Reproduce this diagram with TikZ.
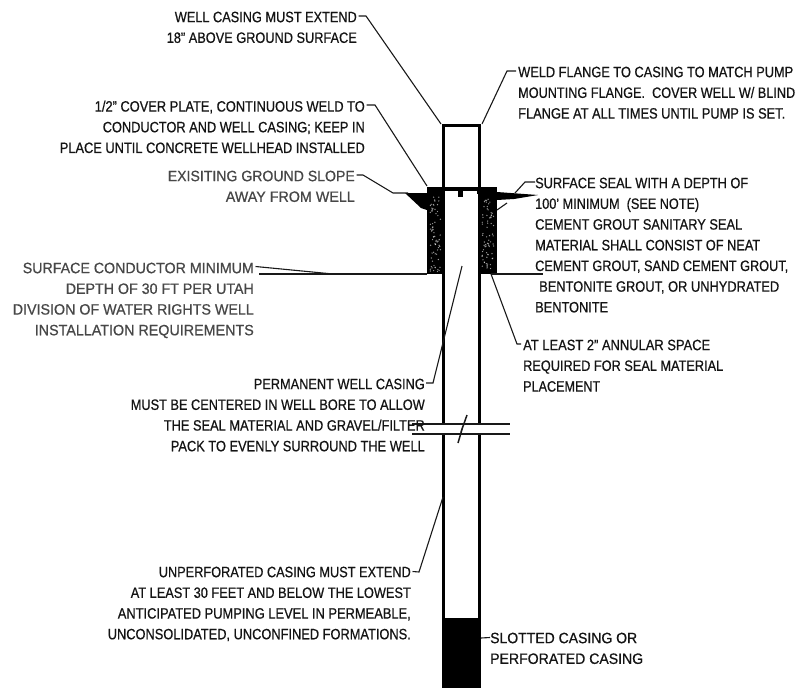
\documentclass[tikz,border=0pt]{standalone}
\usepackage{fontspec}
\setmainfont[FakeStretch=0.875,FakeBold=0.6]{Liberation Sans}
\newcommand{\fitline}[2]{\resizebox{#1pt}{\height}{#2}}
\begin{document}
\begin{tikzpicture}[x=1pt,y=-1pt,
  note/.style={inner sep=0pt,font=\fontsize{15}{20.7}\selectfont,text=black!92},
  noteR/.style={note,anchor=north east,align=right},
  noteL/.style={note,anchor=north west,align=left},
  fade/.style={text=black!72},
  leader/.style={draw=black!90,line width=1.1pt},
  wall/.style={draw=black,line width=3pt},
  thin wall/.style={draw=black,line width=1.6pt},
  solid mass/.style={fill=black,draw=none}]
\useasboundingbox (0,0) rectangle (798,688);
\fill[white] (0,0) rectangle (798,688);

% ---- seal
\fill (427,189) rectangle (443,274);
\fill (479,189) rectangle (497,274);
\pgfmathsetseed{41}
\foreach \i in {1,...,70}{
  \pgfmathsetmacro{\px}{430+rnd*11}\pgfmathsetmacro{\py}{197+rnd*75}
  \fill[white,opacity=.6] (\px,\py) circle (0.7);
  \pgfmathsetmacro{\qx}{482+rnd*12}\pgfmathsetmacro{\qy}{197+rnd*75}
  \fill[white,opacity=.6] (\qx,\qy) circle (0.7);
}
% ---- ground wedges and cover plate
\fill[solid mass] (405,193) -- (427,193) -- (427,210) -- (421,208) -- cycle;
\fill[solid mass] (497,192) -- (538,195) -- (514,199) -- (497,200) -- cycle;
\fill[solid mass] (427,187) rectangle (497,194);
\fill[white] (445,191) rectangle (477,200);
\fill[solid mass] (458,190) rectangle (463,197);

% ---- casing
\coordinate (topL) at (443,125);
\coordinate (topR) at (479,125);
\coordinate (breakLa) at (443,423);
\coordinate (breakRa) at (479,423);
\coordinate (breakLb) at (443,435);
\coordinate (breakRb) at (479,435);
\coordinate (botL) at (443,688);
\coordinate (botR) at (479,688);
\draw[wall] (breakLa) -- (topL) -- (topR) -- (breakRa);
\draw[wall] (breakLb) -- (botL);
\draw[wall] (breakRb) -- (botR);
\draw[thin wall] (443,189) -- (479,189);
\fill[solid mass] (441.5,618) rectangle (481,688);

% ---- break
\draw[leader] (412,424) -- (510,424);
\draw[leader] (412,434) -- (510,434);
\draw[leader,line width=1.5pt] (467,415) -- (461,432) -- (463,426) -- (458,443);

% ---- ground lines
\draw[leader] (491,274) -- (543,274);
\draw[leader] (259,274) -- (427,274);

% ---- left notes
\node[noteR] (b1) at (357,11.5) {\fitline{182}{WELL CASING MUST EXTEND}\\\fitline{190}{18" ABOVE GROUND SURFACE}};
\node[noteR] (b2) at (365,100.5) {\fitline{270}{1/2" COVER PLATE, CONTINUOUS WELD TO}\\\fitline{262}{CONDUCTOR AND WELL CASING; KEEP IN}\\\fitline{305}{PLACE UNTIL CONCRETE WELLHEAD INSTALLED}};
\node[noteR,fade] (b3) at (355,170.5) {\fitline{187}{EXISITING GROUND SLOPE}\\\fitline{129}{AWAY FROM WELL}};
\node[noteR,fade] (b4) at (254,262.5) {\fitline{231}{SURFACE CONDUCTOR MINIMUM}\\\fitline{188}{DEPTH OF 30 FT PER UTAH}\\\fitline{241}{DIVISION OF WATER RIGHTS WELL}\\\fitline{219}{INSTALLATION REQUIREMENTS}};
\node[noteR] (b5) at (425,378.5) {\fitline{171}{PERMANENT WELL CASING}\\\fitline{294}{MUST BE CENTERED IN WELL BORE TO ALLOW}\\\fitline{261}{THE SEAL MATERIAL AND GRAVEL/FILTER}\\\fitline{254}{PACK TO EVENLY SURROUND THE WELL}};
\node[noteR] (b6) at (411,566.5) {\fitline{252}{UNPERFORATED CASING MUST EXTEND}\\\fitline{280}{AT LEAST 30 FEET AND BELOW THE LOWEST}\\\fitline{293}{ANTICIPATED PUMPING LEVEL IN PERMEABLE,}\\\fitline{303}{UNCONSOLIDATED, UNCONFINED FORMATIONS.}};

% ---- right notes
\node[noteL] (r1) at (518,66.5) {\fitline{275}{WELD FLANGE TO CASING TO MATCH PUMP}\\\fitline{277}{MOUNTING FLANGE.\ \ COVER WELL W/ BLIND}\\\fitline{267}{FLANGE AT ALL TIMES UNTIL PUMP IS SET.}};
\node[noteL] (r2) at (535,177.5) {\fitline{213}{SURFACE SEAL WITH A DEPTH OF}\\\fitline{164}{100' MINIMUM\ \ (SEE NOTE)}\\\fitline{207}{CEMENT GROUT SANITARY SEAL}\\\fitline{225}{MATERIAL SHALL CONSIST OF NEAT}\\\fitline{253}{CEMENT GROUT, SAND CEMENT GROUT,}\\\hspace*{4pt}\fitline{240}{BENTONITE GROUT, OR UNHYDRATED}\\\fitline{73}{BENTONITE}};
\node[noteL] (r3) at (523,339.5) {\fitline{187}{AT LEAST 2" ANNULAR SPACE}\\\fitline{200}{REQUIRED FOR SEAL MATERIAL}\\\fitline{77}{PLACEMENT}};
\node[noteL] (r4) at (490,632.5) {\fitline{147}{SLOTTED CASING OR}\\\fitline{153}{PERFORATED CASING}};

% ---- leaders
\coordinate (k1) at (366,16);   \coordinate (e1) at (441,124);
\coordinate (k2) at (375,105);  \coordinate (e2) at (427,186);
\coordinate (k3) at (363,175);  \coordinate (e3) at (393,193);  \coordinate (f3) at (408,193);
\coordinate (k4) at (333,274);
\coordinate (k5) at (433,383);  \coordinate (e5) at (462,266);
\coordinate (k6) at (419,572);  \coordinate (e6) at (443,497);
\coordinate (kr1) at (507,71);  \coordinate (er1) at (482,124);
\coordinate (kr2) at (525,182); \coordinate (er2) at (515,193);
\coordinate (gr2a) at (497,210); \coordinate (gr2b) at (507,203);
\coordinate (kr3) at (517,344); \coordinate (er3) at (491,274);
\coordinate (er4) at (481,638);

\draw[leader] ([xshift=1.5pt,yshift=-4.5pt]b1.north east) -- (k1) -- (e1);
\draw[leader] ([xshift=1.5pt,yshift=-4.5pt]b2.north east) -- (k2) -- (e2);
\draw[leader] ([xshift=1.5pt,yshift=-4.5pt]b3.north east) -- (k3) -- (e3) -- (f3);
\draw[leader] ([xshift=1.5pt,yshift=-4pt]b4.north east) -- (k4);
\draw[leader] ([xshift=1pt,yshift=-4.5pt]b5.north east) -- (k5) -- (e5);
\draw[leader] ([xshift=1.5pt,yshift=-5pt]b6.north east) -- (k6) -- (e6);
\draw[leader] ([xshift=-2pt,yshift=-4.5pt]r1.north west) -- (kr1) -- (er1);
\draw[leader] ([yshift=-4.5pt]r2.north west) -- (kr2) -- (er2);
\draw[leader] (gr2a) -- (gr2b);
\draw[leader] ([xshift=-2pt,yshift=-4.5pt]r3.north west) -- (kr3) -- (er3);
\draw[leader] ([yshift=-5pt]r4.north west) -- (er4);
\end{tikzpicture}
\end{document}
